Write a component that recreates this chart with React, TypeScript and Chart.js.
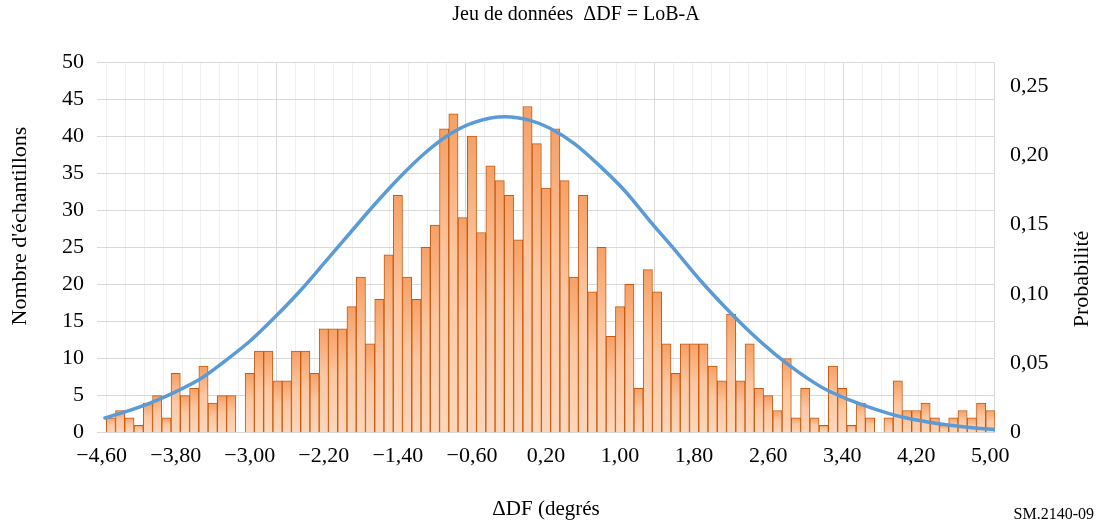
import { useEffect, useRef } from "react";
import { Chart, registerables } from "chart.js";

Chart.register(...registerables);

// Histogram bins (ΔDF, degrees) and sample counts
const BINS = [
  -4.6, -4.5, -4.4, -4.3, -4.2, -4.1, -4.0, -3.9, -3.8, -3.7,
  -3.6, -3.5, -3.4, -3.3, -3.2, -3.1, -3.0, -2.9, -2.8, -2.7,
  -2.6, -2.5, -2.4, -2.3, -2.2, -2.1, -2.0, -1.9, -1.8, -1.7,
  -1.6, -1.5, -1.4, -1.3, -1.2, -1.1, -1.0, -0.9, -0.8, -0.7,
  -0.6, -0.5, -0.4, -0.3, -0.2, -0.1, 0.0, 0.1, 0.2, 0.3,
  0.4, 0.5, 0.6, 0.7, 0.8, 0.9, 1.0, 1.1, 1.2, 1.3,
  1.4, 1.5, 1.6, 1.7, 1.8, 1.9, 2.0, 2.1, 2.2, 2.3,
  2.4, 2.5, 2.6, 2.7, 2.8, 2.9, 3.0, 3.1, 3.2, 3.3,
  3.4, 3.5, 3.6, 3.7, 3.8, 3.9, 4.0, 4.1, 4.2, 4.3,
  4.4, 4.5, 4.6, 4.7, 4.8, 4.9, 5.0,
];

const COUNTS = [
  0, 2, 3, 2, 1, 4, 5, 2, 8, 5,
  6, 9, 4, 5, 5, 0, 8, 11, 11, 7,
  7, 11, 11, 8, 14, 14, 14, 17, 21, 12,
  18, 24, 32, 21, 18, 25, 28, 41, 43, 29,
  40, 27, 36, 34, 32, 26, 44, 39, 33, 41,
  34, 21, 32, 19, 25, 13, 17, 20, 6, 22,
  19, 12, 8, 12, 12, 12, 9, 7, 16, 7,
  12, 6, 5, 3, 10, 2, 6, 2, 1, 9,
  6, 1, 4, 2, 0, 2, 7, 3, 3, 4,
  2, 1, 2, 3, 2, 4, 3,
];

const X_TICKS = [-4.6, -3.8, -3.0, -2.2, -1.4, -0.6, 0.2, 1.0, 1.8, 2.6, 3.4, 4.2, 5.0];

// Probability curve
const CURVE_X = [
  -4.564, -4.348, -4.078, -3.807, -3.537, -3.267, -2.997, -2.727, -2.457, -2.187,
  -1.917, -1.647, -1.377, -1.107, -0.837, -0.567, -0.243, 0.027, 0.243, 0.513,
  0.783, 1.053, 1.323, 1.593, 1.863, 2.133, 2.403, 2.673, 2.943, 3.213,
  3.483, 3.753, 4.023, 4.293, 4.563, 4.833, 5.049,
];
const CURVE_P = [
  0.0106, 0.0150, 0.0214, 0.0293, 0.0387, 0.0517, 0.0661, 0.0834, 0.1022, 0.1230,
  0.1440, 0.1649, 0.1844, 0.2017, 0.2154, 0.2240, 0.2278, 0.2252, 0.2195, 0.2081,
  0.1922, 0.1743, 0.1526, 0.1317, 0.1101, 0.0906, 0.0726, 0.0567, 0.0430, 0.0315,
  0.0235, 0.0170, 0.0117, 0.0081, 0.0053, 0.0034, 0.0023,
];

const TITLE = "Jeu de données  ΔDF = LoB-A";
const X_TITLE = "ΔDF (degrés";
const Y_TITLE = "Nombre d'échantillons";
const Y2_TITLE = "Probabilité";
const SOURCE = "SM.2140-09";

const FONT = "'Liberation Serif', 'Times New Roman', serif";

const fmtX = (v: number) => v.toFixed(2).replace(".", ",").replace("-", "\u2212");
const fmtP = (v: number) => (Math.abs(v) < 1e-9 ? "0" : v.toFixed(2).replace(".", ","));

export default function App() {
  const ref = useRef<HTMLCanvasElement | null>(null);

  useEffect(() => {
    if (!ref.current) return;

    const textPlugin = {
      id: "freeText",
      afterDraw(chart: any) {
        const c = chart.ctx;
        c.save();
        c.fillStyle = "#000";
        c.textBaseline = "middle";
        c.textAlign = "center";
        c.font = `20px ${FONT}`;
        c.fillText(TITLE, 576, 15);

        c.font = `22px ${FONT}`;
        c.save();
        c.translate(20, 226);
        c.rotate(-Math.PI / 2);
        c.fillText(Y_TITLE, 0, 0);
        c.restore();

        c.save();
        c.translate(1082, 279);
        c.rotate(-Math.PI / 2);
        c.fillText(Y2_TITLE, 0, 0);
        c.restore();

        c.font = `16px ${FONT}`;
        c.textAlign = "right";
        c.fillText(SOURCE, 1094, 515);
        c.restore();
      },
    };

    const barFill = (ctx: any) => {
      const chart = ctx.chart;
      if (ctx.type !== "data" || !chart.chartArea) return "#fcc6a0";
      const ys = chart.scales.y;
      const v = ctx.raw && typeof ctx.raw === "object" ? ctx.raw.y : ctx.raw;
      const top = ys.getPixelForValue(v);
      const bottom = ys.getPixelForValue(0);
      if (!isFinite(top) || bottom - top < 1) return "#fcc6a0";
      const g = chart.ctx.createLinearGradient(0, top, 0, bottom);
      g.addColorStop(0, "#f6a066");
      g.addColorStop(0.45, "#fcc7a1");
      g.addColorStop(1, "#fdd6ba");
      return g;
    };

    const chart = new Chart(ref.current, {
      type: "bar",
      data: {
        datasets: [
          {
            type: "line",
            label: "Probabilité",
            data: CURVE_X.map((x, i) => ({ x, y: CURVE_P[i] })),
            xAxisID: "x",
            yAxisID: "y2",
            borderColor: "#5b9bd5",
            borderWidth: 3.5,
            pointRadius: 0,
            cubicInterpolationMode: "monotone",
            borderCapStyle: "round",
            fill: false,
            order: 0,
          } as any,
          {
            type: "bar",
            label: "Nombre d'échantillons",
            data: BINS.map((x, i) => ({ x, y: COUNTS[i] })),
            xAxisID: "x",
            yAxisID: "y",
            backgroundColor: barFill,
            borderColor: "#c55a11",
            borderWidth: 1,
            borderSkipped: "bottom",
            barPercentage: 1,
            categoryPercentage: 1,
            order: 1,
          } as any,
        ],
      },
      options: {
        animation: false,
        responsive: true,
        maintainAspectRatio: false,
        layout: { padding: { top: 62, left: 0, right: 0, bottom: 0 } },
        plugins: {
          legend: { display: false },
          tooltip: { enabled: false },
          title: { display: false },
        },
        scales: {
          x: {
            type: "linear",
            position: "bottom",
            min: -4.65,
            max: 5.05,
            offset: false,
            grid: { display: false, drawTicks: false },
            border: { display: false },
            afterBuildTicks: (s: any) => {
              s.ticks = X_TICKS.map((v) => ({ value: v }));
            },
            afterFit: (s: any) => {
              s.height = 91.3;
            },
            ticks: {
              autoSkip: false,
              maxRotation: 0,
              padding: 10,
              color: "#000",
              font: { family: FONT, size: 22 },
              callback: (v: any) => fmtX(Number(v)),
            },
            title: {
              display: true,
              text: X_TITLE,
              color: "#000",
              font: { family: FONT, size: 21 },
              padding: { top: 0, bottom: 2 },
            },
          },
          xg: {
            type: "linear",
            axis: "x",
            position: "top",
            min: 0,
            max: 4.753,
            offset: false,
            afterBuildTicks: (s: any) => {
              const t = [];
              for (let k = 0; k <= 47; k++) t.push({ value: k / 10 });
              s.ticks = t;
            },
            afterFit: (s: any) => {
              s.height = 0;
            },
            ticks: { display: false },
            border: { display: false },
            grid: {
              drawTicks: false,
              lineWidth: 1,
              color: (ctx: any) => {
                const v = ctx.tick ? ctx.tick.value : 0;
                return Math.abs(v - Math.round(v)) < 1e-6 ? "#d9d9d9" : "#f0f0f0";
              },
            },
          } as any,
          y: {
            type: "linear",
            position: "left",
            min: 0,
            max: 50,
            afterFit: (s: any) => {
              s.width = 97;
            },
            ticks: {
              stepSize: 5,
              padding: 13,
              color: "#000",
              font: { family: FONT, size: 22 },
            },
            grid: { color: "#d9d9d9", lineWidth: 1, drawTicks: false },
            border: { display: false },
            title: { display: false },
          },
          y2: {
            type: "linear",
            position: "right",
            min: 0,
            max: 0.2673,
            afterFit: (s: any) => {
              s.width = 104;
            },
            ticks: {
              stepSize: 0.05,
              includeBounds: false,
              padding: 15,
              color: "#000",
              font: { family: FONT, size: 22 },
              callback: (v: any) => fmtP(Number(v)),
            },
            grid: { display: false, drawTicks: false },
            border: { display: false },
            title: { display: false },
          },
        },
      } as any,
      plugins: [textPlugin],
    });

    return () => chart.destroy();
  }, []);

  return (
    <div style={{ position: "absolute", left: 0, top: 0, width: 1099, height: 524 }}>
      <canvas ref={ref} />
    </div>
  );
}
